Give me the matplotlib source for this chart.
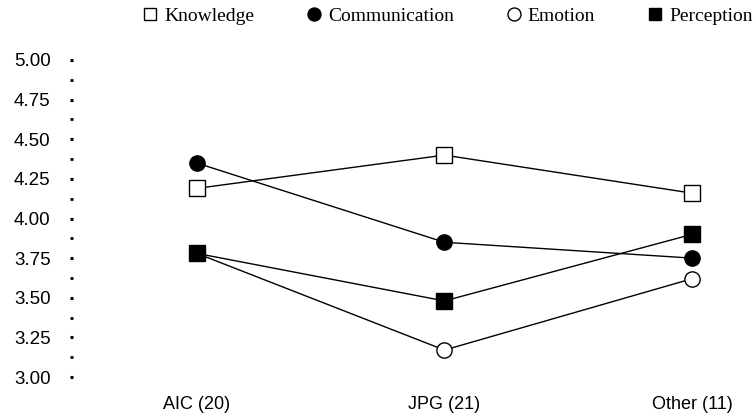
import matplotlib.pyplot as plt
from matplotlib.ticker import MultipleLocator

groups = ["AIC (20)", "JPG (21)", "Other (11)"]
knowledge = [4.19, 4.40, 4.16]
communication = [4.35, 3.85, 3.75]
emotion = [3.78, 3.17, 3.62]
perception = [3.78, 3.48, 3.90]
yticks = [3.00, 3.25, 3.50, 3.75, 4.00, 4.25, 4.50, 4.75, 5.00]

fig = plt.figure(figsize=(7.56, 4.17), dpi=100)
ax = fig.add_axes([70 / 756, 40 / 417, 680 / 756, 317 / 417])

xs = list(range(len(groups)))
line_kw = dict(color='black', lw=1.0, markersize=11, markeredgewidth=1.0,
               markeredgecolor='black', clip_on=False)
h_kn, = ax.plot(xs, knowledge, marker='s', markerfacecolor='white', label='Knowledge', **line_kw)
h_co, = ax.plot(xs, communication, marker='o', markerfacecolor='black', label='Communication', **line_kw)
h_em, = ax.plot(xs, emotion, marker='o', markerfacecolor='white', label='Emotion', **line_kw)
h_pe, = ax.plot(xs, perception, marker='s', markerfacecolor='black', label='Perception', **line_kw)

ax.set_xlim(-0.512, 2.234)
ax.set_ylim(3.0, 5.0)
ax.set_xticks(xs)
ax.set_xticklabels(groups, family='Liberation Sans', fontsize=13)
ax.set_yticks(yticks)
ax.set_yticklabels([f"{v:.2f}" for v in yticks], family='Liberation Sans', fontsize=13.5)
ax.yaxis.set_minor_locator(MultipleLocator(0.125))

for s in ax.spines.values():
    s.set_visible(False)
ax.tick_params(axis='x', length=0, pad=14)
ax.tick_params(axis='y', which='major', length=2, width=2.2, direction='in', pad=14)
ax.tick_params(axis='y', which='minor', length=2, width=2.0, direction='in')

leg = fig.legend(handles=[h_kn, h_co, h_em, h_pe], loc='upper center',
                 bbox_to_anchor=(0.592, 1.025), ncol=4, frameon=False,
                 handlelength=0.8, handletextpad=0.3, columnspacing=2.7,
                 markerscale=0.85,
                 prop={'family': 'Liberation Serif', 'size': 14})
for h in leg.legend_handles:
    h.set_linestyle('none')

fig.savefig('out.png', dpi=100)
